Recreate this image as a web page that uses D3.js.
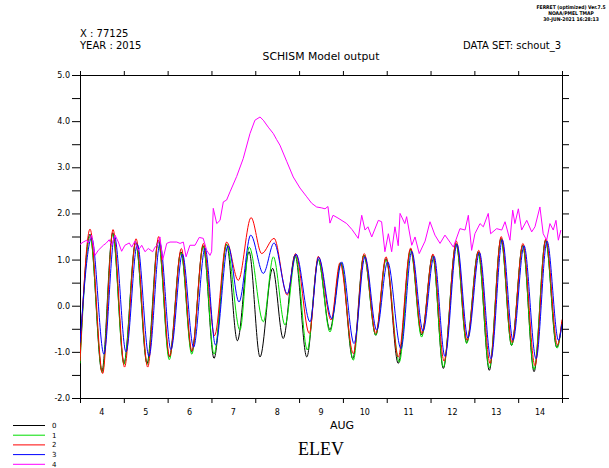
<!DOCTYPE html>
<html>
<head>
<meta charset="utf-8">
<script src="https://cdn.jsdelivr.net/npm/d3@7"></script>
<style>
  body { margin: 0; background: #fff; }
  svg { display: block; }
  text { font-family: "DejaVu Sans", "Liberation Sans", sans-serif; fill: #000; }
</style>
</head>
<body>
<svg id="chart" width="609" height="468"></svg>
<script>
// Time axis: hours since 2015-08-04 00:00 UTC, 11 days shown
const startTime = Date.UTC(2015, 7, 4);
const dayCount = 11;
const dayLabels = ["4", "5", "6", "7", "8", "9", "10", "11", "12", "13", "14"];
const monthLabel = "AUG";
const yTicks = [-2, -1.5, -1, -0.5, 0, 0.5, 1, 1.5, 2, 2.5, 3, 3.5, 4, 4.5, 5];

const seriesNames = ["0", "1", "2", "3", "4"];
const seriesColors = ["#000000", "#00dd00", "#ff0000", "#0000ff", "#ff00ff"];

// Water elevation, [hour, metres]; tidal series given at high and low waters
const elev0 = [[0,-1.1],[5.5,1.55],[12.0,-1.42],[17.9,1.58],[24.1,-1.24],[30.5,1.38],[36.7,-1.25],[42.9,1.42],
  [48.9,-1.11],[55.3,1.17],[61.2,-1.0],[67.5,1.3],[73.4,-1.14],[80.3,1.33],[86.2,-0.76],[92.6,1.17],
  [98.6,-1.11],[105.5,0.81],[111.3,-0.71],[117.8,1.1],[124.2,-1.11],[130.5,1.0],[136.9,-0.52],[142.9,0.93],
  [149.4,-1.15],[155.5,1.1],[162.0,-0.64],[167.6,1.02],[174.3,-1.25],[181.1,1.22],[187.1,-0.63],[193.2,1.09],
  [199.0,-1.36],[206.0,1.35],[211.8,-0.8],[218.1,1.17],[224.2,-1.4],[230.6,1.46],[236.4,-0.86],[242.5,1.31],
  [248.7,-1.43],[255.0,1.42],[261.1,-0.9],[264.0,-0.35]];

const elev1 = [[0,-1.25],[5.5,1.5],[12.2,-1.45],[17.9,1.55],[24.1,-1.27],[30.5,1.35],[36.9,-1.27],[42.9,1.4],
  [48.9,-1.17],[55.3,1.15],[61.2,-1.05],[67.5,1.28],[73.4,-1.05],[80.3,1.33],[87.6,-0.53],[92.7,1.27],
  [100.4,-0.35],[105.9,1.06],[112.3,-0.42],[118.1,1.06],[124.5,-0.96],[130.5,1.0],[136.9,-0.57],[142.9,0.93],
  [149.7,-1.18],[155.5,1.1],[162.0,-0.64],[167.6,1.0],[174.9,-1.22],[181.1,1.2],[187.1,-0.68],[193.2,1.07],
  [199.0,-1.33],[206.0,1.33],[211.8,-0.82],[218.1,1.15],[224.2,-1.35],[230.6,1.43],[236.4,-0.86],[242.5,1.3],
  [248.7,-1.38],[255.0,1.4],[261.3,-0.92],[264.0,-0.35]];

const elev2 = [[0,-1.2],[5.5,1.66],[12.4,-1.47],[18.1,1.65],[24.4,-1.33],[30.7,1.45],[37.1,-1.33],[43.1,1.5],
  [49.1,-1.1],[55.5,1.24],[61.3,-0.98],[67.6,1.35],[73.7,-0.65],[80.3,1.38],[86.7,0.55],[93.7,1.91],
  [99.5,1.13],[106.3,1.46],[113.5,0.23],[118.1,1.13],[125.6,-0.6],[130.5,1.07],[137.5,-0.31],[142.4,0.93],
  [149.7,-1.04],[155.7,1.13],[162.0,-0.6],[167.6,1.06],[174.3,-1.11],[181.1,1.25],[187.3,-0.6],[193.3,1.12],
  [199.4,-1.2],[206.1,1.4],[212.0,-0.75],[218.4,1.2],[224.6,-1.25],[230.7,1.5],[236.6,-0.8],[242.6,1.35],
  [249.2,-1.3],[255.2,1.45],[261.5,-0.85],[264.0,-0.3]];

const elev3 = [[0,-0.8],[6.4,1.47],[13.1,-1.05],[18.9,1.5],[25.2,-1.0],[31.4,1.33],[37.8,-1.1],[43.8,1.35],
  [49.8,-0.95],[56.1,1.12],[62.2,-0.9],[68.5,1.25],[74.2,-0.85],[81.1,1.3],[87.1,0.08],[93.5,1.53],
  [100.4,0.7],[106.3,1.36],[113.5,0.26],[118.3,1.12],[126.0,-0.35],[130.7,1.05],[137.9,-0.28],[143.3,0.95],
  [150.1,-0.82],[156.1,1.06],[162.5,-0.53],[168.5,0.95],[175.8,-0.93],[181.7,1.18],[187.9,-0.55],[193.9,1.07],
  [199.9,-1.1],[206.5,1.33],[212.5,-0.7],[218.8,1.15],[225.1,-1.15],[231.3,1.43],[237.2,-0.75],[243.2,1.3],
  [249.8,-1.15],[255.8,1.4],[262.1,-0.75],[264.0,-0.4]];

const elev4 = [[0,1.33],[1.8,1.38],[3.7,1.42],[4.5,1.36],[6.4,1.53],[8.2,1.09],[10.0,1.2],[12.8,1.31],[14.2,1.35],
  [16.0,1.43],[17.4,1.31],[19.2,1.53],[21.0,1.38],[22.8,1.18],[24.6,1.31],[27.0,1.36],[28.3,1.27],[30.1,1.4],
  [31.9,1.2],[33.8,1.31],[35.6,1.17],[37.4,1.24],[39.8,1.17],[41.1,1.27],[42.3,1.31],[43.8,1.49],[45.3,0.99],
  [47.5,1.35],[49.3,1.38],[53.0,1.38],[54.8,1.35],[56.6,1.38],[58.1,1.06],[60.2,1.31],[63.0,1.31],[65.3,1.48],
  [67.5,1.46],[69.4,1.2],[71.2,1.09],[72.1,1.17],[73.0,2.11],[74.9,1.78],[76.7,1.85],[78.5,2.25],[80.3,2.29],
  [82.2,2.47],[85.8,2.8],[89.4,3.19],[93.1,3.73],[95.8,4.02],[98.6,4.09],[100.4,4.02],[103.1,3.87],[105.9,3.73],
  [107.7,3.6],[109.5,3.48],[113.2,3.13],[116.8,2.79],[120.5,2.55],[124.2,2.36],[126.9,2.22],[129.6,2.14],
  [132.4,2.12],[134.2,2.1],[135.8,2.15],[136.9,1.79],[138.6,1.96],[141.3,1.9],[146.1,1.78],[149.0,1.65],
  [152.4,1.46],[154.3,1.96],[156.1,1.64],[157.7,1.71],[159.8,1.49],[163.4,1.85],[165.2,1.82],[167.0,1.17],
  [168.9,1.56],[170.7,1.17],[172.5,1.71],[174.3,1.3],[175.3,2.0],[177.9,1.78],[178.9,1.93],[181.7,1.31],
  [183.5,1.49],[185.8,1.13],[189.0,1.4],[191.7,1.82],[194.4,1.53],[197.2,1.35],[199.9,1.53],[202.6,1.38],
  [204.5,1.27],[208.1,1.67],[210.9,1.64],[212.7,1.96],[214.5,1.2],[216.3,1.56],[219.1,1.78],[220.9,1.71],
  [223.6,2.0],[224.9,1.56],[228.2,1.67],[231.0,1.64],[232.8,1.82],[235.5,1.42],[237.0,2.07],[238.2,1.78],
  [240.1,2.1],[241.9,1.64],[244.7,1.85],[247.4,1.6],[249.2,1.71],[251.9,2.14],[253.7,1.56],[255.6,1.42],
  [257.4,1.78],[259.2,1.64],[260.7,1.85],[262.0,1.42],[263.4,1.64]];

const series = [elev0, elev1, elev2, elev3, elev4];
const smoothSeries = [true, true, true, true, false];

const svg = d3.select("#chart");
const plot = { left: 80, right: 562, top: 75, bottom: 398 };

const toDate = h => new Date(startTime + h * 3600e3);
const endDate = new Date(startTime + dayCount * 864e5);
const x = d3.scaleUtc().domain([new Date(startTime), endDate]).range([plot.left, plot.right]);
const y = d3.scaleLinear().domain([-2, 5]).range([plot.bottom, plot.top]);

// clip region for the data lines
svg.append("defs").append("clipPath").attr("id", "plotClip")
  .append("rect").attr("x", plot.left).attr("y", plot.top)
  .attr("width", plot.right - plot.left).attr("height", plot.bottom - plot.top);

const dayTicks = d3.utcDay.range(new Date(startTime), new Date(endDate.getTime() + 1));

// axes, ticks outward
function styleAxis(g) {
  g.select(".domain").remove();
  g.selectAll(".tick line").attr("stroke", "#000");
}
svg.append("g").attr("transform", `translate(${plot.left},0)`)
  .call(d3.axisLeft(y).tickValues(yTicks).tickSize(8).tickPadding(2)
    .tickFormat(d => Number.isInteger(d) ? d3.format(".1f")(d).replace("−", "-") : ""))
  .call(styleAxis)
  .call(g => g.selectAll("text").attr("font-size", 8).attr("font-family", "DejaVu Sans"));
svg.append("g").attr("transform", `translate(${plot.right},0)`)
  .call(d3.axisRight(y).tickValues(yTicks).tickSize(7).tickFormat(""))
  .call(styleAxis);
svg.append("g").attr("transform", `translate(0,${plot.bottom})`)
  .call(d3.axisBottom(x).tickValues(dayTicks).tickSize(5).tickFormat(""))
  .call(styleAxis);
svg.append("g").attr("transform", `translate(0,${plot.top})`)
  .call(d3.axisTop(x).tickValues(dayTicks).tickSize(4).tickFormat(""))
  .call(styleAxis);

// day labels centred at noon
svg.append("g").selectAll("text").data(dayLabels).join("text")
  .attr("x", (d, i) => x(toDate(i * 24 + 12)))
  .attr("y", 415)
  .attr("text-anchor", "middle").attr("font-size", 8)
  .text(d => d);
svg.append("text").attr("x", 342).attr("y", 429).attr("text-anchor", "middle")
  .attr("font-size", 11).text(monthLabel);

// frame
svg.append("rect").attr("x", plot.left + 0.5).attr("y", plot.top + 0.5)
  .attr("width", plot.right - plot.left).attr("height", plot.bottom - plot.top)
  .attr("fill", "none").attr("stroke", "#000").attr("stroke-width", 1);

// data lines
const lineSmooth = d3.line().x(d => x(toDate(d[0]))).y(d => y(d[1])).curve(d3.curveMonotoneX);
const lineRaw = d3.line().x(d => x(toDate(d[0]))).y(d => y(d[1]));
svg.append("g").attr("clip-path", "url(#plotClip)")
  .selectAll("path").data(series).join("path")
  .attr("d", (d, i) => (smoothSeries[i] ? lineSmooth : lineRaw)(d))
  .attr("fill", "none")
  .attr("stroke", (d, i) => seriesColors[i])
  .attr("stroke-width", 1);

// header texts
svg.append("text").attr("x", 80).attr("y", 37).attr("font-size", 10).text("X : 77125");
svg.append("text").attr("x", 80).attr("y", 49).attr("font-size", 10).text("YEAR : 2015");
svg.append("text").attr("x", 561).attr("y", 49).attr("text-anchor", "end").attr("font-size", 10).text("DATA SET: schout_3");
svg.append("text").attr("x", 321).attr("y", 60).attr("text-anchor", "middle").attr("font-size", 10.8).text("SCHISM Model output");

// program stamp, top right
const stamp = ["FERRET (optimized) Ver.7.5", "NOAA/PMEL TMAP", "30-JUN-2021 16:28:13"];
svg.append("g").selectAll("text").data(stamp).join("text")
  .attr("x", 571).attr("y", (d, i) => 9 + i * 6)
  .attr("text-anchor", "middle").attr("font-size", 5)
  .style("font-family", "'DejaVu Sans Condensed', 'DejaVu Sans', sans-serif")
  .attr("font-weight", "bold")
  .text(d => d);

// variable name
svg.append("text").attr("x", 321).attr("y", 455).attr("text-anchor", "middle")
  .style("font-family", "'Liberation Serif', serif")
  .attr("font-size", 18).text("ELEV");

// legend
const legend = svg.append("g").selectAll("g").data(seriesNames).join("g")
  .attr("transform", (d, i) => `translate(0,${425.5 + i * 9.7})`);
legend.append("line").attr("x1", 13).attr("x2", 45)
  .attr("stroke", (d, i) => seriesColors[i]).attr("stroke-width", 1);
legend.append("text").attr("x", 52).attr("y", 2.5).attr("font-size", 7).text(d => d);
</script>
</body>
</html>
